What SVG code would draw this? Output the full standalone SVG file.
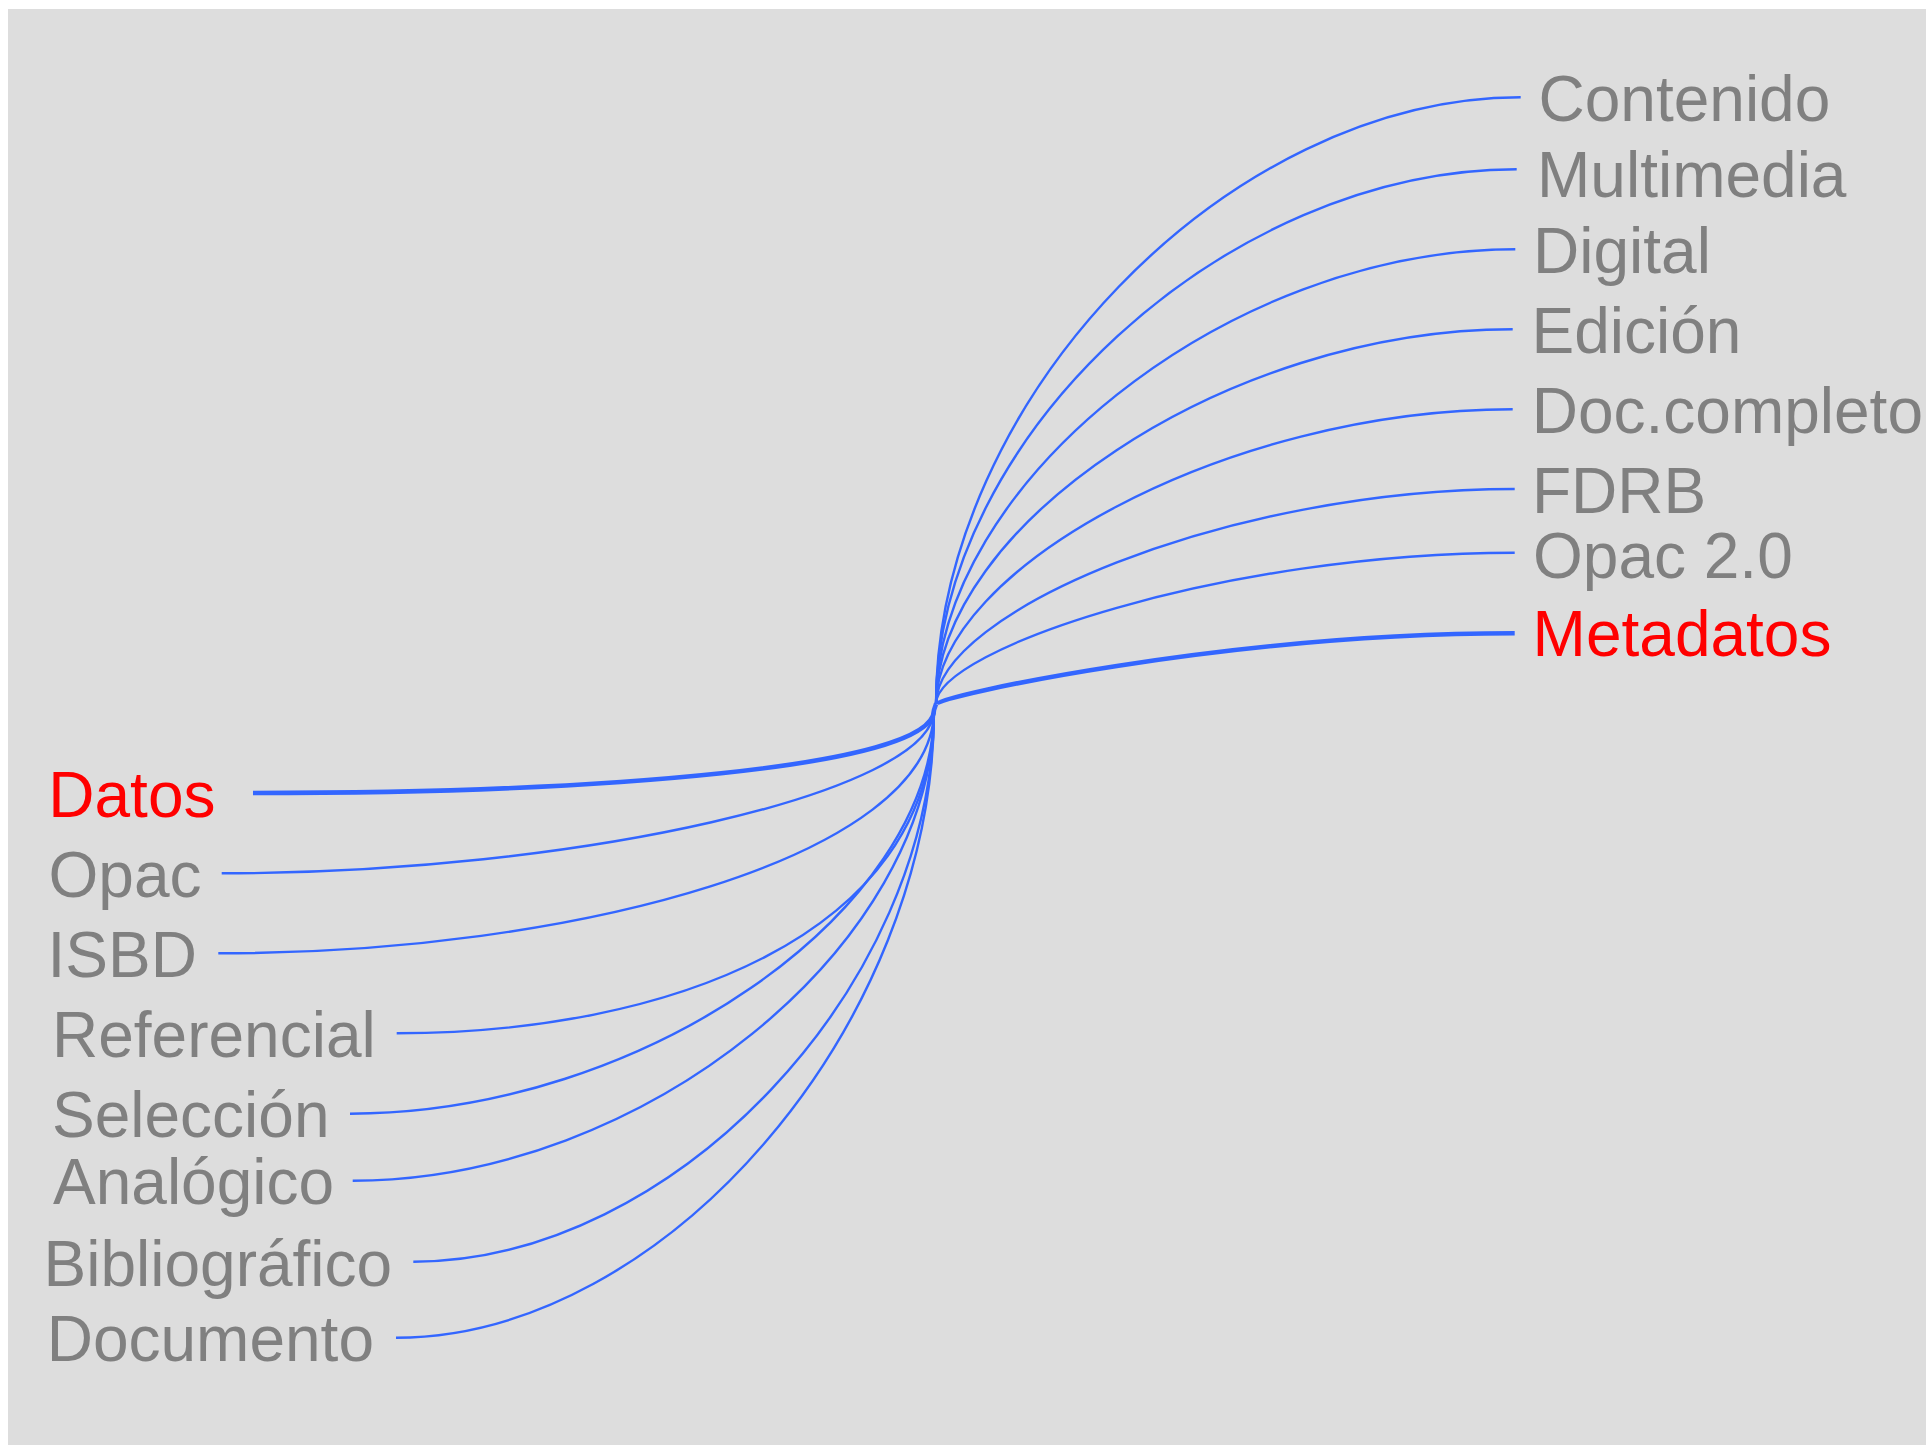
<svg xmlns="http://www.w3.org/2000/svg" width="1926" height="1445" viewBox="0 0 1926 1445">
<style>
.lbl{font-family:"Liberation Sans",Arial,sans-serif;font-size:64px;fill:#808080}
.hi{fill:#ff0000}
.c{fill:none;stroke:#3366ff;stroke-width:2.4}
.ct{fill:none;stroke:#3366ff;stroke-width:4.6}
</style>
<rect x="0" y="0" width="1926" height="1445" fill="#ffffff"/>
<rect x="8" y="9" width="1918" height="1436" fill="#dddddd"/>
<g id="connectors">
<path class="ct" d="M253,793 C593.5,793 934,768 934,710 L936,704"/>
<path class="c" d="M221.7,873.3 C577.9,873.3 934,791.7 934,710"/>
<path class="c" d="M218.3,953.3 C576.2,953.3 934,856 934,710"/>
<path class="c" d="M396.7,1033.3 C665.4,1033.3 934,936 934,710"/>
<path class="c" d="M350,1113.7 C642,1113.7 934,911.8 934,710"/>
<path class="c" d="M352.7,1180.7 C643.4,1180.7 934,945.4 934,710"/>
<path class="c" d="M413.3,1261.7 C673.7,1261.7 934,986 934,710"/>
<path class="c" d="M396,1337.7 C665,1337.7 934,1023.9 934,710"/>
<path class="c" d="M936,704 C936,400.2 1228.4,97.3 1520.7,97.3"/>
<path class="c" d="M936,704 C936,436.2 1226.4,169.3 1516.7,169.3"/>
<path class="c" d="M936,704 C936,485.3 1225.7,249.3 1515.3,249.3"/>
<path class="c" d="M936,704 C936,527.4 1224.4,329.3 1512.7,329.3"/>
<path class="c" d="M936,704 C936,570.9 1224.4,409.3 1512.7,409.3"/>
<path class="c" d="M936,704 C936,613.3 1225.4,489 1514.7,489"/>
<path class="c" d="M936,704 C936,649.2 1225.4,552.7 1514.7,552.7"/>
<path class="ct" d="M936,704 C936,696.8 1225.4,633.3 1514.7,633.3"/>
</g>
<g id="node-datos"><text class="lbl hi" x="48.3" y="817.3">Datos</text></g>
<g id="node-opac"><text class="lbl" x="48.5" y="897.3">Opac</text></g>
<g id="node-isbd"><text class="lbl" x="47.5" y="977.3">ISBD</text></g>
<g id="node-referencial"><text class="lbl" x="52" y="1057.3">Referencial</text></g>
<g id="node-seleccion"><text class="lbl" x="52" y="1137.3">Selección</text></g>
<g id="node-analogico"><text class="lbl" x="53" y="1204">Analógico</text></g>
<g id="node-bibliografico"><text class="lbl" x="43.5" y="1285.7">Bibliográfico</text></g>
<g id="node-documento"><text class="lbl" x="46.7" y="1360.7">Documento</text></g>
<g id="node-contenido"><text class="lbl" x="1538.5" y="121">Contenido</text></g>
<g id="node-multimedia"><text class="lbl" x="1537" y="196.7">Multimedia</text></g>
<g id="node-digital"><text class="lbl" x="1533" y="273.3">Digital</text></g>
<g id="node-edicion"><text class="lbl" x="1531.5" y="353">Edición</text></g>
<g id="node-doccompleto"><text class="lbl" x="1531.7" y="433.3">Doc.completo</text></g>
<g id="node-fdrb"><text class="lbl" x="1532" y="513.3">FDRB</text></g>
<g id="node-opac20"><text class="lbl" x="1533" y="577.7">Opac 2.0</text></g>
<g id="node-metadatos"><text class="lbl hi" x="1532.6" y="656">Metadatos</text></g>
</svg>
